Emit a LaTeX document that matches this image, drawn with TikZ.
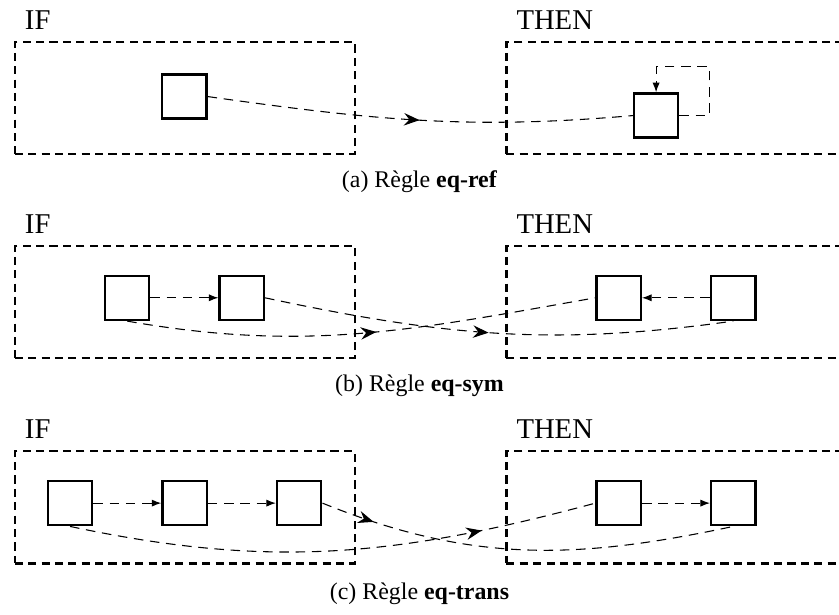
\documentclass[tikz,border=0pt]{standalone}
\usepackage{fontspec}
\setmainfont{Liberation Serif}
\usetikzlibrary{arrows.meta,positioning,decorations.markings}

\begin{document}
\begin{tikzpicture}[
  cadre/.style={draw,line width=1pt,dash pattern=on 3.4pt off 2.2pt,
    minimum width=5cm,minimum height=1.65cm,inner sep=0pt,anchor=north west},
  terme/.style={draw,line width=1pt,minimum size=0.65cm,inner sep=0pt},
  lien/.style={line width=0.45pt,dash pattern=on 4pt off 2.8pt,
    -{Latex[length=4pt,width=3pt]}},
  flot/.style={line width=0.45pt,dash pattern=on 4pt off 2.8pt,postaction={decorate},
    decoration={markings,mark=at position #1 with {\arrow{Stealth[length=6.5pt,width=5.2pt,inset=2.2pt]}}}},
  titre/.style={font=\fontsize{12}{14}\selectfont,inner sep=0pt},
  legende/.style={font=\fontsize{10}{12}\selectfont,anchor=base}
]
\path[use as bounding box,clip] (0,0) rectangle (12.34,-9.04);

% ---------- (a) eq-ref ----------
\begin{scope}[yshift=-0.6cm]
\node[cadre] (ifa) at (0.2,0) {};
\node[cadre] (thena) at (7.43,0) {};
\node[titre,above right=0.16cm and 0.16cm of ifa.north west] (ifalbl) {IF};
\node[titre,above right=0.16cm and 0.16cm of thena.north west] (thenalbl) {THEN};
\node[terme] (ifa1) at (2.71,-0.82) {};
\node[terme] (thena1) at (9.65,-1.1) {};
\draw[flot=0.5] (ifa1.east) to[out=-8,in=185] (thena1.west);
\draw[lien] (thena1.east) -- ++(0.44,0) -- ++(0,0.72) -| (thena1.north);
\node[legende] (capa) at (6.17,-2.16) {(a) Règle \textbf{eq-ref}};
\end{scope}

% ---------- (b) eq-sym ----------
\begin{scope}[yshift=-3.6cm]
\node[cadre] (ifb) at (0.2,0) {};
\node[cadre] (thenb) at (7.43,0) {};
\node[titre,above right=0.16cm and 0.16cm of ifb.north west] (ifblbl) {IF};
\node[titre,above right=0.16cm and 0.16cm of thenb.north west] (thenblbl) {THEN};
\node[terme] (ifb1) at (1.87,-0.78) {};
\node[terme,right=1cm of ifb1] (ifb2) {};
\node[terme] (thenb1) at (9.1,-0.78) {};
\node[terme,right=1cm of thenb1] (thenb2) {};
\draw[lien] (ifb1) -- (ifb2);
\draw[lien] (thenb2) -- (thenb1);
\draw[flot=0.53] (ifb1.south) to[out=-10,in=190] (thenb1.west);
\draw[flot=0.48] (ifb2.east) to[out=-12,in=188] (thenb2.south);
\node[legende] (capb) at (6.17,-2.16) {(b) Règle \textbf{eq-sym}};
\end{scope}

% ---------- (c) eq-trans ----------
\begin{scope}[yshift=-6.62cm]
\node[cadre] (ifc) at (0.2,0) {};
\node[cadre] (thenc) at (7.43,0) {};
\node[titre,above right=0.16cm and 0.16cm of ifc.north west] (ifclbl) {IF};
\node[titre,above right=0.16cm and 0.16cm of thenc.north west] (thenclbl) {THEN};
\node[terme] (ifc1) at (1.03,-0.78) {};
\node[terme,right=1cm of ifc1] (ifc2) {};
\node[terme,right=1cm of ifc2] (ifc3) {};
\node[terme] (thenc1) at (9.1,-0.78) {};
\node[terme,right=1cm of thenc1] (thenc2) {};
\draw[lien] (ifc1) -- (ifc2);
\draw[lien] (ifc2) -- (ifc3);
\draw[lien] (thenc1) -- (thenc2);
\draw[flot=0.78] (ifc1.south) to[out=-12,in=195] (thenc1.west);
\draw[flot=0.13] (ifc3.east) to[out=-22,in=192] (thenc2.south);
\node[legende] (capc) at (6.17,-2.2) {(c) Règle \textbf{eq-trans}};
\end{scope}
\end{tikzpicture}
\end{document}
